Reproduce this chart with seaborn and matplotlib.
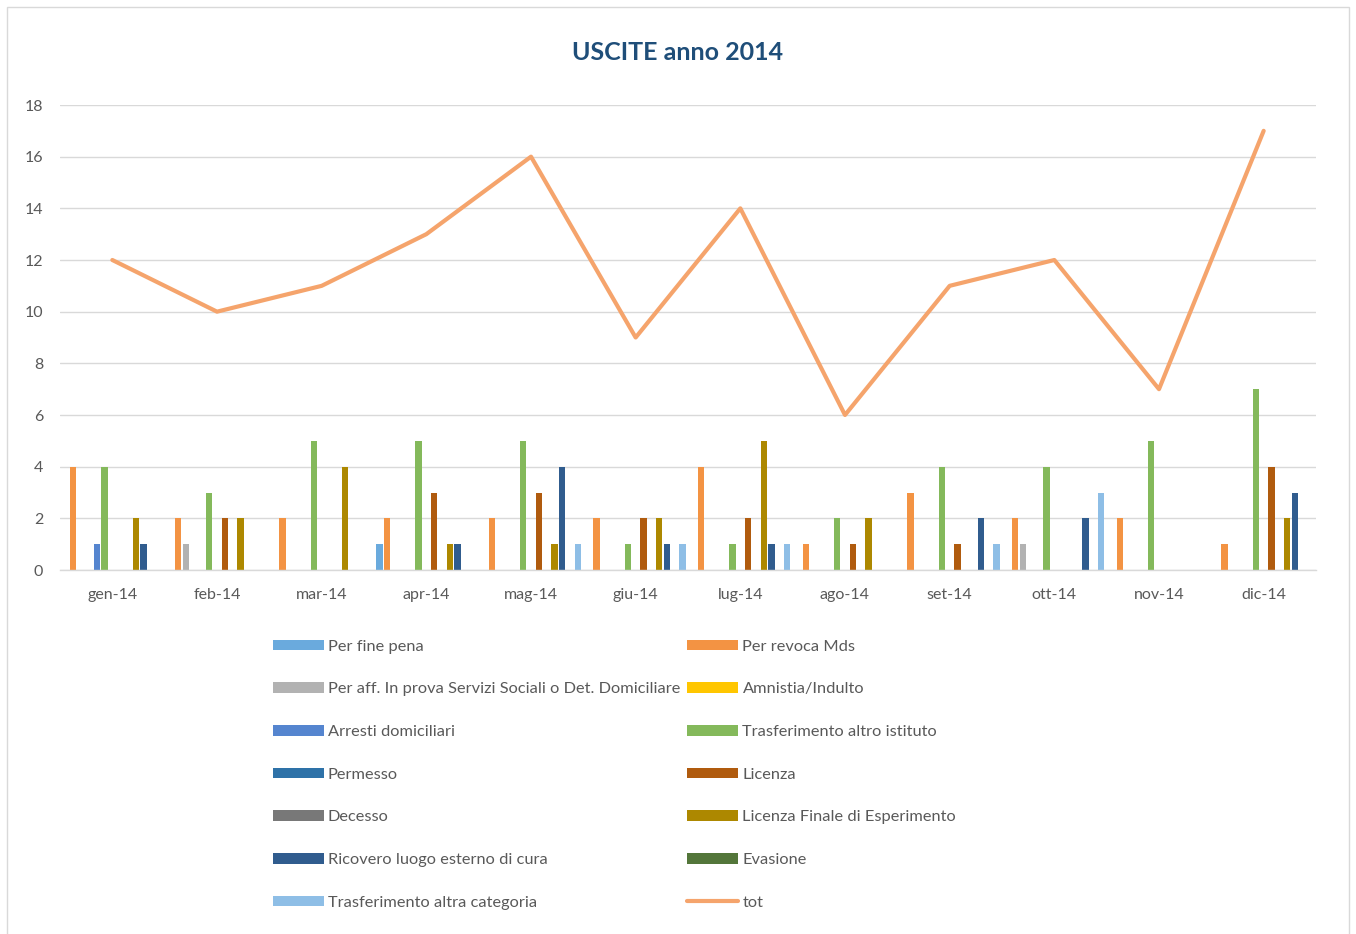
import numpy as np
import pandas as pd
import seaborn as sns
import matplotlib.pyplot as plt
from matplotlib.patches import Patch, Rectangle
from matplotlib.lines import Line2D

# ---- data -------------------------------------------------------------
months = ['gen-14', 'feb-14', 'mar-14', 'apr-14', 'mag-14', 'giu-14',
          'lug-14', 'ago-14', 'set-14', 'ott-14', 'nov-14', 'dic-14']

per_fine_pena     = [0, 0, 0, 1, 0, 0, 0, 0, 0, 0, 0, 0]
per_revoca_mds    = [4, 2, 2, 2, 2, 2, 4, 1, 3, 2, 2, 1]
per_aff_prova     = [0, 1, 0, 0, 0, 0, 0, 0, 0, 1, 0, 0]
amnistia_indulto  = [0, 0, 0, 0, 0, 0, 0, 0, 0, 0, 0, 0]
arresti_domic     = [1, 0, 0, 0, 0, 0, 0, 0, 0, 0, 0, 0]
trasf_istituto    = [4, 3, 5, 5, 5, 1, 1, 2, 4, 4, 5, 7]
permesso          = [0, 0, 0, 0, 0, 0, 0, 0, 0, 0, 0, 0]
licenza           = [0, 2, 0, 3, 3, 2, 2, 1, 1, 0, 0, 4]
decesso           = [0, 0, 0, 0, 0, 0, 0, 0, 0, 0, 0, 0]
licenza_finale    = [2, 2, 4, 1, 1, 2, 5, 2, 0, 0, 0, 2]
ricovero_esterno  = [1, 0, 0, 1, 4, 1, 1, 0, 2, 2, 0, 3]
evasione          = [0, 0, 0, 0, 0, 0, 0, 0, 0, 0, 0, 0]
trasf_categoria   = [0, 0, 0, 0, 1, 1, 1, 0, 1, 3, 0, 0]
tot               = [12, 10, 11, 13, 16, 9, 14, 6, 11, 12, 7, 17]

series = [
    ('Per fine pena', per_fine_pena, '#6AAADD'),
    ('Per revoca Mds', per_revoca_mds, '#F39343'),
    ('Per aff. In prova Servizi Sociali o Det. Domiciliare', per_aff_prova, '#B2B2B2'),
    ('Amnistia/Indulto', amnistia_indulto, '#FFC600'),
    ('Arresti domiciliari', arresti_domic, '#5585CF'),
    ('Trasferimento altro istituto', trasf_istituto, '#84B95B'),
    ('Permesso', permesso, '#2E72A8'),
    ('Licenza', licenza, '#B05B0E'),
    ('Decesso', decesso, '#787878'),
    ('Licenza Finale di Esperimento', licenza_finale, '#AD8800'),
    ('Ricovero luogo esterno di cura', ricovero_esterno, '#305C8E'),
    ('Evasione', evasione, '#53763A'),
    ('Trasferimento altra categoria', trasf_categoria, '#8EBEE6'),
]
tot_color = '#F5A46C'

names = [s[0] for s in series]
colors = [s[2] for s in series]
df = pd.DataFrame([
    {'mese': m, 'serie': name, 'valore': v}
    for name, vals, _ in series
    for m, v in zip(months, vals)
])

# ---- figure -----------------------------------------------------------
sns.set_theme(style='white')
plt.rcParams['font.family'] = ['Lato', 'DejaVu Sans']

W, H = 1356, 934
fig = plt.figure(figsize=(W / 100, H / 100), dpi=100)
ax = fig.add_axes([60 / W, 1 - 570 / H, 1256 / W, 465 / H])

sns.barplot(data=df, x='mese', y='valore', hue='serie', order=months,
            hue_order=names, palette=colors, saturation=1, width=0.97,
            gap=0.18, linewidth=0, errorbar=None, legend=False, ax=ax)

sns.lineplot(x=np.arange(len(months)), y=tot, color=tot_color, lw=3,
             ax=ax, zorder=5)

ax.set_xlim(-0.5, len(months) - 0.5)
ax.set_ylim(0, 18)
ax.set_yticks(np.arange(0, 19, 2))
ax.set_xlabel('')
ax.set_ylabel('')
ax.yaxis.grid(True, color='#D9D9D9', lw=1)
ax.set_axisbelow(True)
for side in ('left', 'top', 'right'):
    ax.spines[side].set_visible(False)
ax.spines['bottom'].set_color('#D9D9D9')
ax.spines['bottom'].set_linewidth(1)
ax.tick_params(axis='x', length=0, labelsize=11.5, labelcolor='#595959', pad=13)
ax.tick_params(axis='y', length=0, labelsize=11.5, labelcolor='#595959', pad=12)

fig.text(678 / W, 1 - 53 / H, 'USCITE anno 2014', ha='center', va='center',
         fontsize=18, fontweight='bold', color='#1F4E79')

# legend: two columns filled row by row
entries = [(n, Patch(facecolor=c, edgecolor='none')) for n, _, c in series]
entries.append(('tot', Line2D([], [], color=tot_color, lw=3)))
col1 = entries[0::2]
col2 = entries[1::2]
ordered = col1 + col2
fig.legend([h for _, h in ordered], [n for n, _ in ordered], ncol=2,
           loc='upper left', bbox_to_anchor=(258 / W, 1 - 625 / H),
           frameon=False, fontsize=11.8, handlelength=3.12, handleheight=0.6,
           labelspacing=1.75, columnspacing=0.42, handletextpad=0.25,
           labelcolor='#595959')

fig.patches.append(Rectangle((7 / W, -0.01), (1349 - 7) / W, 1.01 - 7 / H,
                             transform=fig.transFigure, fill=False,
                             edgecolor='#D9D9D9', lw=1))

fig.savefig('out.png', dpi=100, facecolor='white')
